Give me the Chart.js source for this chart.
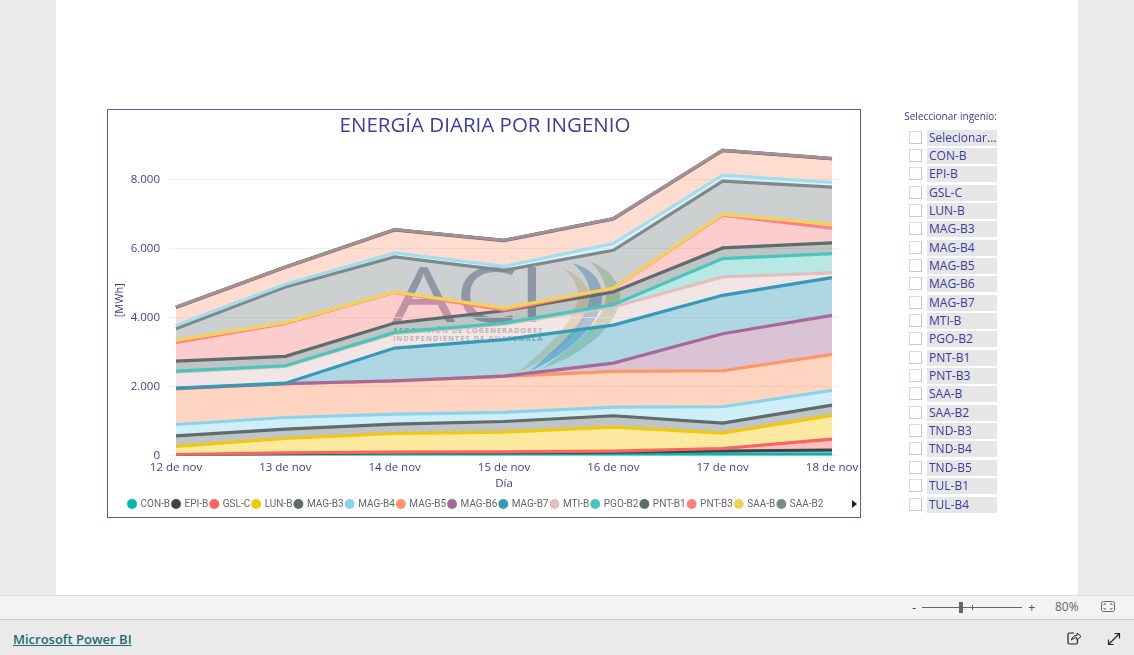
<!DOCTYPE html>
<html>
<head>
<meta charset="utf-8">
<title>Energía diaria por ingenio</title>
<script src="https://cdn.jsdelivr.net/npm/chart.js@4"></script>
<style>
html,body{margin:0;padding:0;width:1134px;height:655px;overflow:hidden;background:#eaeaea;font-family:"Open Sans","Noto Sans",sans-serif}
#page{position:absolute;left:56px;top:0;width:1022px;height:595px;background:#fff}
#box{position:absolute;left:107px;top:109px;width:752px;height:407px;border:1px solid #5a5ab4;background:#fff}
#logo{position:absolute;left:107px;top:109px;width:754px;height:409px}
#chartWrap{position:absolute;left:108px;top:110px;width:752px;height:414px}
#title{position:absolute;left:108px;width:754px;top:110px;text-align:center;font-size:20.5px;line-height:28px;color:#3d3d9e}
#arrow{position:absolute;left:852px;top:500px;width:0;height:0;border-left:5px solid #222;border-top:4px solid transparent;border-bottom:4px solid transparent}
#slicerTitle{position:absolute;left:860px;width:137px;top:109px;text-align:right;font-size:10px;line-height:14px;color:#3a3aa0}
.row{position:absolute;left:909px;height:16px;width:88px}
.row i{position:absolute;left:0;top:1px;width:11px;height:11px;border:1px solid #c8c8d0;border-left-color:#d4daf0;border-top-color:#d4daf0;background:#fff}
.row span{position:absolute;left:18px;top:0;width:70px;height:16px;background:#e6e6e6;font-size:12px;line-height:16px;color:#3a3aa0;text-indent:2px;white-space:nowrap;overflow:hidden}
#zoombar{position:absolute;left:0;top:595px;width:1134px;height:23px;background:#f3f3f3;border-top:1px solid #dcdcdc;border-bottom:1px solid #c8c8c8;box-sizing:content-box}
#foot{position:absolute;left:13px;top:630px;font-size:13px;font-weight:600;color:#1d6b73;text-decoration:underline;line-height:18px}
#pct{position:absolute;left:1055px;top:599px;font-size:12px;line-height:15px;color:#666}
.zt{position:absolute;font-size:13px;line-height:14px;color:#555}
#track{position:absolute;left:922px;top:607px;width:100px;height:1px;background:#666}
#thumb{position:absolute;left:959px;top:602px;width:4px;height:11px;background:#666}
#tick{position:absolute;left:972px;top:605px;width:1px;height:5px;background:#666}
svg.ic{position:absolute}
</style>
</head>
<body>
<div id="page"></div>
<div id="box"></div>
<svg id="logo" viewBox="107 109 754 409">
  <path d="M562 268 C582 275 592 290 590 305 C585 335 545 362 518 372 C545 350 578 320 578 295 C578 285 572 275 562 268Z" fill="#e8c98a" opacity="0.6"/>
  <path d="M572 263 C592 268 604 282 602 300 C598 330 560 358 530 371 C555 350 590 320 590 295 C590 282 582 270 572 263Z" fill="#5a9fd0" opacity="0.65"/>
  <path d="M590 262 C610 268 622 285 620 300 C614 332 575 358 543 368 C570 348 606 322 606 295 C606 282 600 270 590 262Z" fill="#9cc98a" opacity="0.6"/>
  <text x="392" y="322" font-family="Open Sans" font-size="76" font-weight="400" fill="#9aa0bb" textLength="154" lengthAdjust="spacingAndGlyphs">ACI</text>
  <text x="393" y="333" font-family="Open Sans" font-size="7" font-weight="700" fill="#a9aab0" textLength="149">ASOCIACIÓN DE COGENERADORES</text>
  <text x="393" y="341" font-family="Open Sans" font-size="7" font-weight="700" fill="#a9aab0" textLength="149">INDEPENDIENTES DE GUATEMALA</text>
</svg>
<div id="chartWrap"><canvas id="Canvas" width="752" height="414"></canvas></div>
<div id="title">ENERGÍA DIARIA POR INGENIO</div>
<div id="arrow"></div>
<div id="slicerTitle">Seleccionar ingenio:</div>
<div id="slicer"></div>
<div id="zoombar"></div>
<div class="zt" style="left:912px;top:600px">-</div>
<div id="track"></div><div id="thumb"></div><div id="tick"></div>
<div class="zt" style="left:1028px;top:600px">+</div>
<div id="pct">80%</div>
<svg class="ic" style="left:1101px;top:601px" width="14" height="12"><rect x="0.5" y="0.5" width="13" height="10" rx="2" fill="none" stroke="#666"/><path d="M3 4V3H5M9 3H11V4M11 7V8H9M5 8H3V7" fill="none" stroke="#666"/></svg>
<div id="foot">Microsoft Power BI</div>
<svg class="ic" style="left:1067px;top:631px" width="15" height="14"><path d="M7 2H2.5A1.5 1.5 0 0 0 1 3.5V11.5A1.5 1.5 0 0 0 2.5 13H9A1.5 1.5 0 0 0 10.5 11.5V9" fill="none" stroke="#222" stroke-width="1.2"/><path d="M4.5 9C5 6 7 4.5 10 4.5V2L14 5.5L10 9V6.8C8 6.8 6 7.5 4.5 9Z" fill="none" stroke="#222"/></svg>
<svg class="ic" style="left:1107px;top:632px" width="14" height="14"><path d="M1.5 12.5L12.5 1.5M7.5 1.5H12.5V6.5M1.5 7.5V12.5H6.5" fill="none" stroke="#222" stroke-width="1.2"/></svg>

<script>
const days = ["12 de nov", "13 de nov", "14 de nov", "15 de nov", "16 de nov", "17 de nov", "18 de nov"];
const yTicks = [0, 2000, 4000, 6000, 8000];

// MWh por ingenio (cada serie es su tramo de la pila)
const CON_B = [5, 10, 15, 15, 20, 25, 30];
const EPI_B = [10, 40, 65, 70, 75, 105, 130];
const GSL_C = [14, 28, 16, 22, 30, 73, 313];
const LUN_B = [233, 415, 542, 568, 697, 444, 688];
const MAG_B3 = [309, 272, 271, 311, 330, 291, 299];
const MAG_B4 = [328, 337, 290, 262, 250, 475, 427];
const MAG_B5 = [1035, 977, 957, 1044, 1035, 1044, 1044];
const MAG_B6 = [8, 7, 10, 8, 241, 1073, 1131];
const MAG_B7 = [10, 10, 947, 1057, 1103, 1113, 1094];
const MTI_B = [463, 487, 425, 449, 522, 532, 135];
const PGO_B2 = [31, 18, 31, 32, 69, 532, 562];
const PNT_B1 = [291, 272, 269, 357, 368, 309, 309];
const PNT_B3 = [542, 958, 892, 20, 107, 949, 427];
const SAA_B = [58, 20, 10, 60, 9, 22, 115];
const SAA_B2 = [340, 1034, 1014, 1094, 1093, 965, 1074];
const TND_B3 = [95, 77, 117, 116, 193, 174, 135];
const TND_B4 = [516, 489, 664, 739, 711, 710, 684];
const TND_B5 = [5, 5, 5, 5, 5, 5, 5];
const TUL_B1 = [5, 5, 5, 5, 5, 5, 5];
const TUL_B4 = [5, 5, 5, 5, 5, 5, 5];

const names = ["CON-B", "EPI-B", "GSL-C", "LUN-B", "MAG-B3", "MAG-B4", "MAG-B5", "MAG-B6", "MAG-B7", "MTI-B", "PGO-B2", "PNT-B1", "PNT-B3", "SAA-B", "SAA-B2", "TND-B3", "TND-B4", "TND-B5", "TUL-B1", "TUL-B4"];
const values = [CON_B, EPI_B, GSL_C, LUN_B, MAG_B3, MAG_B4, MAG_B5, MAG_B6, MAG_B7, MTI_B, PGO_B2, PNT_B1, PNT_B3, SAA_B, SAA_B2, TND_B3, TND_B4, TND_B5, TUL_B1, TUL_B4];
const colors = ["#01B8AA", "#374649", "#FD625E", "#F2C80F", "#5F6B6D", "#8AD4EB", "#FE9666", "#A66999", "#3599B8", "#DFBFBF", "#4AC5BB", "#5F6B6D", "#FB8281", "#F4D25A", "#7F898A", "#A4DDEE", "#FDAB89", "#B687AC", "#28738A", "#A78F8F"];
const legendCount = 15;

function fade(hex, a) {
  const n = parseInt(hex.slice(1), 16);
  return "rgba(" + (n >> 16) + "," + ((n >> 8) & 255) + "," + (n & 255) + "," + a + ")";
}

// slicer
const slicer = document.getElementById("slicer");
["Selecionar..."].concat(names).forEach(function(n, i) {
  const row = document.createElement("div");
  row.className = "row";
  row.style.top = (129.5 + i * 18.35) + "px";
  row.innerHTML = "<i></i><span></span>";
  row.querySelector("span").textContent = n;
  slicer.appendChild(row);
});

// la pila se acumula aqui para que las series altas queden encima, como en Power BI
const running = days.map(() => 0);
const datasets = names.map(function(n, i) {
  return {
    label: n,
    data: values[i].map(function(v, d) {
      running[d] += v;
      return { x: d, y: running[d] };
    }),
    order: -i,
    borderColor: colors[i],
    backgroundColor: colors[i],
    borderWidth: 3.2,
    pointRadius: 0,
    tension: 0,
    fill: { target: i === 0 ? "origin" : "-1", above: fade(colors[i], 0.4), below: fade(colors[i], 0.4) }
  };
});

const textColor = "#3d3d9e";
const font = "'Open Sans','Noto Sans',sans-serif";

new Chart(document.getElementById("Canvas").getContext("2d"), {
  type: "line",
  data: { datasets: datasets },
  options: {
    responsive: false,
    animation: false,
    layout: { padding: { left: 5, right: 21, top: 35, bottom: 5 } },
    scales: {
      x: {
        type: "linear",
        min: -0.064,
        max: 6.064,
        afterBuildTicks: function(s) { s.ticks = days.map((d, i) => ({ value: i })); },
        afterFit: function(s) { s.height = 41; },
        ticks: {
          callback: v => days[v],
          color: textColor,
          font: { family: font, size: 11.5 },
          maxRotation: 0,
          autoSkip: false,
          padding: -3
        },
        grid: { display: false },
        border: { display: false },
        title: { display: true, text: "Día", color: textColor, font: { family: font, size: 11.5 }, padding: { top: 2, bottom: 6 } }
      },
      y: {
        min: 0,
        max: 9000,
        afterBuildTicks: function(s) { s.ticks = yTicks.map(v => ({ value: v })); },
        afterFit: function(s) { s.width = 56; },
        ticks: {
          callback: v => String(v).replace(/\B(?=(\d{3})+$)/g, "."),
          color: textColor,
          font: { family: font, size: 11.5 },
          padding: 9
        },
        grid: { color: "#efefef", lineWidth: 1, drawTicks: false },
        border: { display: false },
        title: { display: true, text: "[MWh]", color: textColor, font: { family: font, size: 11 }, padding: 0 }
      }
    },
    plugins: {
      filler: { drawTime: "beforeDatasetsDraw" },
      legend: {
        position: "bottom",
        labels: {
          usePointStyle: true,
          pointStyle: "circle",
          boxWidth: 7,
          boxHeight: 7,
          padding: 2.5,
          color: "#666",
          font: { family: "Roboto", size: 10 },
          generateLabels: function(chart) {
            return chart.data.datasets.slice(0, legendCount).map(function(d, i) {
              return { text: d.label, fillStyle: d.backgroundColor, strokeStyle: d.backgroundColor, lineWidth: 0, pointStyle: "circle", datasetIndex: i, fontColor: "#666" };
            });
          }
        }
      },
      tooltip: { enabled: false }
    }
  }
});
</script>
</body>
</html>
